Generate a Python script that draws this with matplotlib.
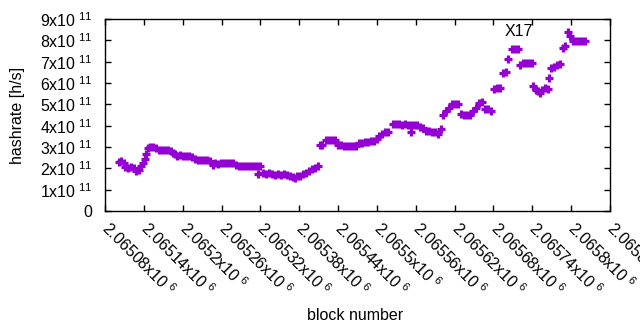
import numpy as np
import matplotlib.pyplot as plt
from matplotlib.ticker import FixedLocator, FuncFormatter

plt.rcParams['font.family'] = ['Liberation Sans', 'DejaVu Sans']
plt.rcParams['mathtext.fontset'] = 'custom'
plt.rcParams['mathtext.rm'] = 'Liberation Sans'

# block numbers and hashrate (x10^11 h/s)
blocks = [
    2065102, 2065105, 2065109, 2065111, 2065116, 2065120, 2065125, 2065128, 2065133, 2065136,
    2065139, 2065142, 2065143, 2065146, 2065150, 2065154, 2065159, 2065163, 2065168, 2065173,
    2065177, 2065182, 2065185, 2065188, 2065191, 2065196, 2065200, 2065205, 2065210, 2065214,
    2065219, 2065224, 2065228, 2065233, 2065238, 2065242, 2065247, 2065250, 2065255, 2065259,
    2065264, 2065268, 2065273, 2065278, 2065282, 2065287, 2065292, 2065296, 2065301, 2065306,
    2065310, 2065315, 2065316, 2065319, 2065324, 2065329, 2065333, 2065338, 2065343, 2065347,
    2065352, 2065356, 2065361, 2065366, 2065370, 2065373, 2065377, 2065381, 2065386, 2065390,
    2065395, 2065400, 2065404, 2065409, 2065412, 2065415, 2065421, 2065426, 2065431, 2065435,
    2065440, 2065445, 2065449, 2065454, 2065458, 2065463, 2065468, 2065472, 2065477, 2065482,
    2065486, 2065491, 2065496, 2065500, 2065503, 2065508, 2065512, 2065517, 2065525, 2065529,
    2065534, 2065539, 2065543, 2065548, 2065553, 2065553, 2065557, 2065562, 2065567, 2065571,
    2065576, 2065580, 2065585, 2065590, 2065594, 2065599, 2065602, 2065607, 2065611, 2065616,
    2065621, 2065625, 2065630, 2065635, 2065639, 2065644, 2065648, 2065653, 2065658, 2065662,
    2065667, 2065672, 2065676, 2065681, 2065685, 2065690, 2065695, 2065699, 2065702, 2065709,
    2065713, 2065718, 2065721, 2065726, 2065730, 2065735, 2065740, 2065741, 2065746, 2065749,
    2065752, 2065755, 2065760, 2065764, 2065766, 2065769, 2065774, 2065778, 2065783, 2065787,
    2065791, 2065795, 2065798, 2065803, 2065808, 2065812, 2065817, 2065821,
]
hashrate = [
    2.31, 2.36, 2.26, 2.07, 2.03, 2.07, 2.03, 1.89, 1.93, 2.12,
    2.26, 2.45, 2.69, 2.97, 3.02, 3.02, 2.97, 2.87, 2.87, 2.87,
    2.87, 2.83, 2.73, 2.69, 2.59, 2.64, 2.59, 2.59, 2.59, 2.54,
    2.45, 2.40, 2.40, 2.40, 2.40, 2.36, 2.17, 2.26, 2.21, 2.26,
    2.26, 2.26, 2.26, 2.26, 2.17, 2.12, 2.12, 2.12, 2.12, 2.12,
    2.12, 2.12, 1.74, 2.12, 1.79, 1.74, 1.79, 1.74, 1.70, 1.74,
    1.70, 1.74, 1.70, 1.65, 1.60, 1.56, 1.65, 1.65, 1.74, 1.79,
    1.89, 1.98, 2.03, 2.12, 3.11, 3.11, 3.35, 3.35, 3.35, 3.35,
    3.11, 3.11, 3.06, 3.06, 3.06, 3.06, 3.06, 3.20, 3.20, 3.25,
    3.25, 3.30, 3.30, 3.39, 3.53, 3.63, 3.68, 3.68, 4.10, 4.10,
    4.10, 4.05, 4.10, 4.05, 4.05, 3.68, 4.01, 4.01, 3.96, 3.91,
    3.77, 3.77, 3.72, 3.68, 3.63, 3.86, 4.52, 4.67, 4.85, 5.00,
    5.00, 5.00, 4.57, 4.52, 4.52, 4.48, 4.71, 4.81, 5.04, 5.09,
    4.76, 4.76, 4.71, 5.70, 5.75, 5.75, 6.46, 6.50, 7.12, 7.59,
    7.59, 7.59, 6.83, 6.93, 6.93, 6.93, 6.93, 5.84, 5.66, 5.61,
    5.51, 5.66, 5.75, 5.70, 6.22, 6.69, 6.74, 6.83, 6.88, 7.63,
    7.73, 8.39, 8.20, 7.96, 7.96, 7.96, 7.96, 7.96,
]

xticks = [2065080 + 60 * i for i in range(14)]
yticks = [i * 1e11 for i in range(10)]

fs = 11.5
fig = plt.figure(figsize=(6.4, 3.3), dpi=100)
ax = fig.add_axes([105 / 640, 1 - 211 / 330, 505 / 640, 192 / 330])

ax.plot(blocks, np.array(hashrate) * 1e11, linestyle='none', marker='+',
        markersize=5.5, markeredgewidth=2.3, color='#9400d3')

ax.set_xlim(2065080, 2065860)
ax.set_ylim(0, 9e11)
ax.xaxis.set_major_locator(FixedLocator(xticks))
ax.yaxis.set_major_locator(FixedLocator(yticks))
ax.xaxis.set_major_formatter(FuncFormatter(
    lambda v, p: r'$\mathregular{%gx10^{\ 6}}$' % (v / 1e6)))
ax.yaxis.set_major_formatter(FuncFormatter(
    lambda v, p: '0' if v == 0 else r'$\mathregular{%gx10^{\ 11}}$' % (v / 1e11)))

ax.tick_params(direction='in', top=True, right=True, length=4, width=1,
               labelsize=fs, colors='black')
ax.tick_params(axis='y', pad=9)
ax.tick_params(axis='x', pad=10)
for lab in ax.get_xticklabels():
    lab.set_rotation(-45)
    lab.set_ha('left')
    lab.set_va('center')
    lab.set_rotation_mode('anchor')
for s in ax.spines.values():
    s.set_linewidth(1)

ax.text(2065698, 8.42e11, 'X17', fontsize=fs, ha='left', va='center')

fig.text(355 / 640, 1 - 315 / 330, 'block number', fontsize=fs, ha='center', va='center')
fig.text(18 / 640, 1 - 115 / 330, 'hashrate [h/s]', fontsize=fs, ha='center',
         va='center', rotation=90)

fig.savefig('out.png', dpi=100)
